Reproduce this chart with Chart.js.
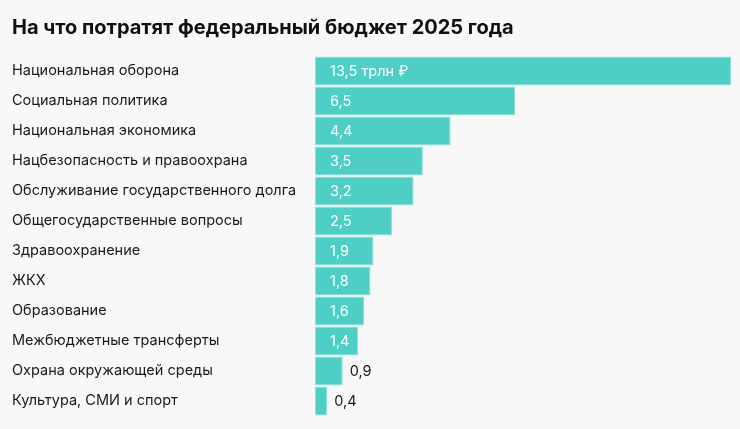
<!DOCTYPE html>
<html><head><meta charset="utf-8">
<script src="https://cdn.jsdelivr.net/npm/chart.js@4"></script>
<style>
html,body{margin:0;padding:0;background:#f8f8f8;}
#wrap{width:740px;height:429px;position:relative;}
</style></head>
<body><div id="wrap"><canvas id="c"></canvas></div>
<script>
const titleText = 'На что потратят федеральный бюджет 2025 года';
const categories = ['Национальная оборона','Социальная политика','Национальная экономика','Нацбезопасность и правоохрана','Обслуживание государственного долга','Общегосударственные вопросы','Здравоохранение','ЖКХ','Образование','Межбюджетные трансферты','Охрана окружающей среды','Культура, СМИ и спорт'];
const values = [13.5, 6.5, 4.4, 3.5, 3.2, 2.5, 1.9, 1.8, 1.6, 1.4, 0.9, 0.4];
const valueLabels = ['13,5 трлн ₽','6,5','4,4','3,5','3,2','2,5','1,9','1,8','1,6','1,4','0,9','0,4'];

const FONT = 'Inter, "Noto Sans", sans-serif';
const labelPlugin = {
  id: 'valLabels',
  afterDatasetsDraw(chart) {
    const ctx = chart.ctx;
    const meta = chart.getDatasetMeta(0);
    const xs = chart.scales.x;
    ctx.save();
    ctx.font = '14.5px ' + FONT;
    ctx.textBaseline = 'middle';
    ctx.textAlign = 'left';
    meta.data.forEach((bar, i) => {
      const txt = valueLabels[i];
      const w = ctx.measureText(txt).width;
      const inside = xs.left + 15;
      if (inside + w + 6 < bar.x) {
        ctx.fillStyle = '#ffffff';
        ctx.fillText(txt, inside, bar.y + 1);
      } else {
        ctx.fillStyle = '#1a1a1a';
        ctx.fillText(txt, bar.x + 7, bar.y + 1);
      }
    });
    ctx.restore();
  }
};

new Chart(document.getElementById('c'), {
  type: 'bar',
  data: {
    labels: categories,
    datasets: [{
      data: values,
      backgroundColor: '#4fcec6',
      borderColor: '#8fe0da',
      borderWidth: 1,
      borderSkipped: false,
      barPercentage: 1,
      categoryPercentage: 0.97
    }]
  },
  options: {
    indexAxis: 'y',
    responsive: true,
    maintainAspectRatio: false,
    animation: false,
    layout: { padding: { left: 12, right: 9, top: 0, bottom: 13 } },
    plugins: {
      legend: { display: false },
      tooltip: { enabled: false },
      title: {
        display: true,
        text: titleText,
        align: 'start',
        color: '#111111',
        font: { family: FONT, size: 20, weight: 'bold', lineHeight: 1.2 },
        padding: { top: 16, bottom: 16 }
      }
    },
    scales: {
      x: {
        min: 0, max: 13.5,
        display: false,
        grid: { display: false }
      },
      y: {
        grid: { display: false, drawBorder: false },
        border: { display: false },
        ticks: {
          crossAlign: 'far',
          color: '#1a1a1a',
          padding: 0,
          font: { family: FONT, size: 14.5 }
        },
        afterFit(scale) { scale.width = 303; }
      }
    }
  },
  plugins: [labelPlugin]
});
</script></body></html>
